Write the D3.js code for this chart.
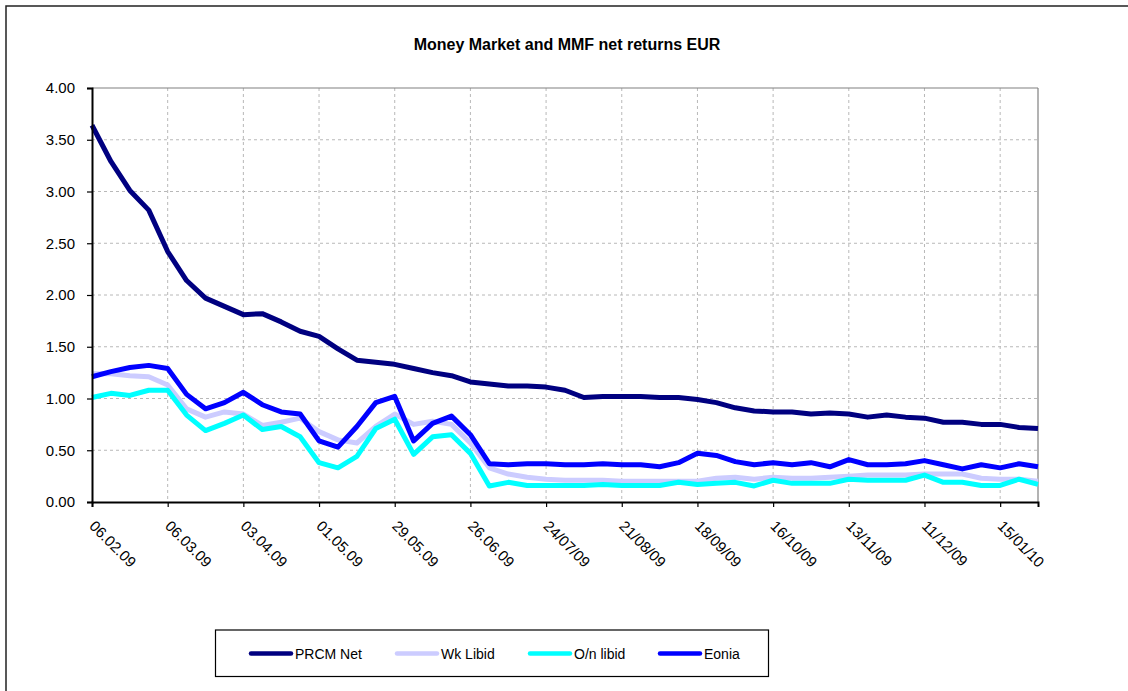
<!DOCTYPE html>
<html>
<head>
<meta charset="utf-8">
<script src="https://cdn.jsdelivr.net/npm/d3@7"></script>
<style>
  html, body { margin: 0; padding: 0; background: #fff; }
  svg { display: block; font-family: "Liberation Sans", Arial, sans-serif; }
</style>
</head>
<body>
<svg id="chart" width="1128" height="691"></svg>
<script>
const categories = [
  "06.02.09","13.02.09","20.02.09","27.02.09","06.03.09","13.03.09","20.03.09","27.03.09",
  "03.04.09","10.04.09","17.04.09","24.04.09","01.05.09","08.05.09","15.05.09","22.05.09",
  "29.05.09","05.06.09","12.06.09","19.06.09","26.06.09","03/07/09","10/07/09","17/07/09",
  "24/07/09","31/07/09","07/08/09","14/08/09","21/08/09","28/08/09","04/09/09","11/09/09",
  "18/09/09","25/09/09","02/10/09","09/10/09","16/10/09","23/10/09","30/10/09","06/11/09",
  "13/11/09","20/11/09","27/11/09","04/12/09","11/12/09","18/12/09","31/12/09","08/01/10",
  "15/01/10","22/01/10","29/01/10"
];
const tickLabels = ["06.02.09","06.03.09","03.04.09","01.05.09","29.05.09","26.06.09","24/07/09",
  "21/08/09","18/09/09","16/10/09","13/11/09","11/12/09","15/01/10"];
const yTicks = [0, 0.5, 1, 1.5, 2, 2.5, 3, 3.5, 4];

const prcmNet = [3.64,3.29,3.01,2.82,2.42,2.14,1.97,1.89,1.81,1.82,1.74,1.65,1.60,1.48,1.37,1.35,
  1.33,1.29,1.25,1.22,1.16,1.14,1.12,1.12,1.11,1.08,1.01,1.02,1.02,1.02,1.01,1.01,
  0.99,0.96,0.91,0.88,0.87,0.87,0.85,0.86,0.85,0.82,0.84,0.82,0.81,0.77,0.77,0.75,
  0.75,0.72,0.71];
const wkLibid = [1.24,1.24,1.22,1.21,1.13,0.90,0.82,0.87,0.85,0.74,0.77,0.81,0.68,0.60,0.57,0.73,
  0.85,0.75,0.78,0.75,0.57,0.33,0.27,0.24,0.22,0.21,0.21,0.21,0.20,0.20,0.20,0.20,
  0.20,0.23,0.24,0.22,0.24,0.23,0.23,0.24,0.25,0.26,0.26,0.26,0.27,0.27,0.27,0.23,
  0.22,0.22,0.20];
const onLibid = [1.01,1.05,1.03,1.08,1.08,0.84,0.69,0.76,0.84,0.70,0.73,0.63,0.38,0.33,0.44,0.71,
  0.80,0.46,0.63,0.65,0.47,0.155,0.19,0.16,0.16,0.16,0.16,0.17,0.16,0.16,0.16,0.19,
  0.17,0.18,0.19,0.155,0.21,0.18,0.18,0.18,0.22,0.21,0.21,0.21,0.26,0.19,0.19,0.16,
  0.16,0.22,0.17];
const eonia = [1.21,1.26,1.30,1.32,1.29,1.04,0.90,0.96,1.06,0.94,0.87,0.85,0.59,0.53,0.73,0.96,
  1.02,0.59,0.76,0.83,0.65,0.37,0.36,0.37,0.37,0.36,0.36,0.37,0.36,0.36,0.34,0.38,
  0.47,0.45,0.39,0.36,0.38,0.36,0.38,0.34,0.41,0.36,0.36,0.37,0.40,0.36,0.32,0.36,
  0.33,0.37,0.34];

const seriesNames = ["PRCM Net", "Wk Libid", "O/n libid", "Eonia"];
const seriesColors = ["#000080", "#CCCCFF", "#00FFFF", "#0000FF"];
const seriesValues = [prcmNet, wkLibid, onLibid, eonia];

const svg = d3.select("#chart");
const L = 92, R = 1038, T = 88, B = 502;

// outer chart border
svg.append("rect").attr("x", 6).attr("y", 6).attr("width", 1140).attr("height", 700)
  .attr("fill", "none").attr("stroke", "#222").attr("stroke-width", 1.5);

// title
svg.append("text").attr("x", 567).attr("y", 50).attr("text-anchor", "middle")
  .attr("font-size", 16).attr("font-weight", "bold").attr("fill", "#000")
  .text("Money Market and MMF net returns EUR");

const x = d3.scalePoint().domain(categories).range([L, R]);
const y = d3.scaleLinear().domain([0, 4]).range([B, T]);

const labelSet = new Set(tickLabels);
const tickCats = categories.filter(c => labelSet.has(c));

// grid
const grid = svg.append("g");
grid.selectAll("line.h").data(yTicks.filter(v => v > 0 && v < 4)).join("line")
  .attr("x1", L).attr("x2", R).attr("y1", d => y(d)).attr("y2", d => y(d))
  .attr("stroke", "#b8b8b8").attr("stroke-width", 1).attr("stroke-dasharray", "3,3");
grid.selectAll("line.v").data(tickCats.slice(1)).join("line")
  .attr("x1", d => x(d)).attr("x2", d => x(d)).attr("y1", T).attr("y2", B)
  .attr("stroke", "#b8b8b8").attr("stroke-width", 1).attr("stroke-dasharray", "3,3");
// plot top/right border
svg.append("line").attr("x1", L).attr("x2", R).attr("y1", T).attr("y2", T)
  .attr("stroke", "#808080").attr("stroke-width", 1.2);
svg.append("line").attr("x1", R).attr("x2", R).attr("y1", T).attr("y2", B)
  .attr("stroke", "#808080").attr("stroke-width", 1.2);

// lines
const lineGen = d3.line().x((d, i) => x(categories[i])).y(d => y(d));
const linesG = svg.append("g");
seriesValues.forEach((vals, k) => {
  linesG.append("path").datum(vals).attr("d", lineGen)
    .attr("fill", "none").attr("stroke", seriesColors[k]).attr("stroke-width", 5)
    .attr("stroke-linejoin", "round").attr("stroke-linecap", "butt");
});

// y axis
const yAxis = svg.append("g").attr("transform", `translate(${L},0)`)
  .call(d3.axisLeft(y).tickValues(yTicks).tickFormat(d3.format(".2f")).tickSize(5).tickPadding(12));
yAxis.select(".domain").attr("stroke", "#000").attr("stroke-width", 2);
yAxis.selectAll(".tick line").attr("stroke", "#000").attr("stroke-width", 1.2);
yAxis.selectAll(".tick text").attr("font-size", 15).attr("fill", "#000")
  .attr("font-family", "Liberation Sans, Arial, sans-serif");

// x axis
const xAxis = svg.append("g").attr("transform", `translate(0,${B})`)
  .call(d3.axisBottom(x).tickValues(tickCats).tickSize(5).tickFormat(d => d));
xAxis.select(".domain").attr("stroke", "#000").attr("stroke-width", 2);
xAxis.selectAll(".tick line").attr("stroke", "#000").attr("stroke-width", 1.2);
xAxis.selectAll(".tick text").attr("font-size", 15).attr("fill", "#000")
  .attr("font-family", "Liberation Sans, Arial, sans-serif")
  .attr("text-anchor", "start").attr("dy", 0).attr("y", 0)
  .attr("transform", "translate(-4,25) rotate(45)");

// legend
const lg = svg.append("g");
lg.append("rect").attr("x", 215.5).attr("y", 630).attr("width", 553).attr("height", 46.5)
  .attr("fill", "#fff").attr("stroke", "#000").attr("stroke-width", 1.2);
const legX = [251, 397, 530, 660];
seriesNames.forEach((name, k) => {
  lg.append("line").attr("x1", legX[k]).attr("x2", legX[k] + 40).attr("y1", 653.5).attr("y2", 653.5)
    .attr("stroke", seriesColors[k]).attr("stroke-width", 4.5).attr("stroke-linecap", "round");
  lg.append("text").attr("x", legX[k] + 44).attr("y", 658.5).attr("font-size", 14)
    .attr("fill", "#000").text(name);
});
</script>
</body>
</html>
